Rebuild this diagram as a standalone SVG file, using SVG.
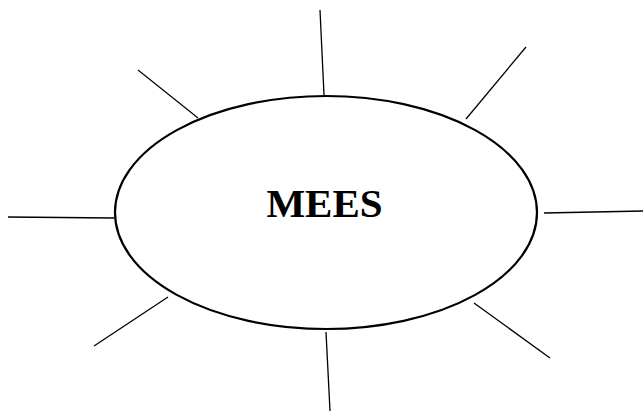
<svg xmlns="http://www.w3.org/2000/svg" width="644" height="414" viewBox="0 0 644 414">
  <style>
    .hub { fill: #ffffff; stroke: #000000; stroke-width: 2.2; }
    .spoke { stroke: #000000; stroke-width: 1.3; fill: none; }
    .title { font-family: "Liberation Serif", "Times New Roman", serif; font-weight: bold; font-size: 41px; fill: #000000; }
  </style>
  <rect width="644" height="414" fill="#ffffff"/>
  <g id="connectors">
    <line class="spoke" x1="320" y1="10" x2="324" y2="95"/>
    <line class="spoke" x1="526" y1="47" x2="466" y2="119"/>
    <line class="spoke" x1="544" y1="213" x2="643" y2="211"/>
    <line class="spoke" x1="474" y1="303" x2="550" y2="358"/>
    <line class="spoke" x1="326" y1="332" x2="330" y2="411"/>
    <line class="spoke" x1="168" y1="297" x2="94" y2="346"/>
    <line class="spoke" x1="8" y1="217" x2="114" y2="218"/>
    <line class="spoke" x1="138" y1="70" x2="198" y2="118"/>
  </g>
  <g id="mees">
    <ellipse class="hub" cx="326" cy="212.5" rx="211" ry="116.5"/>
    <text class="title" x="324.5" y="217" text-anchor="middle">MEES</text>
  </g>
</svg>
